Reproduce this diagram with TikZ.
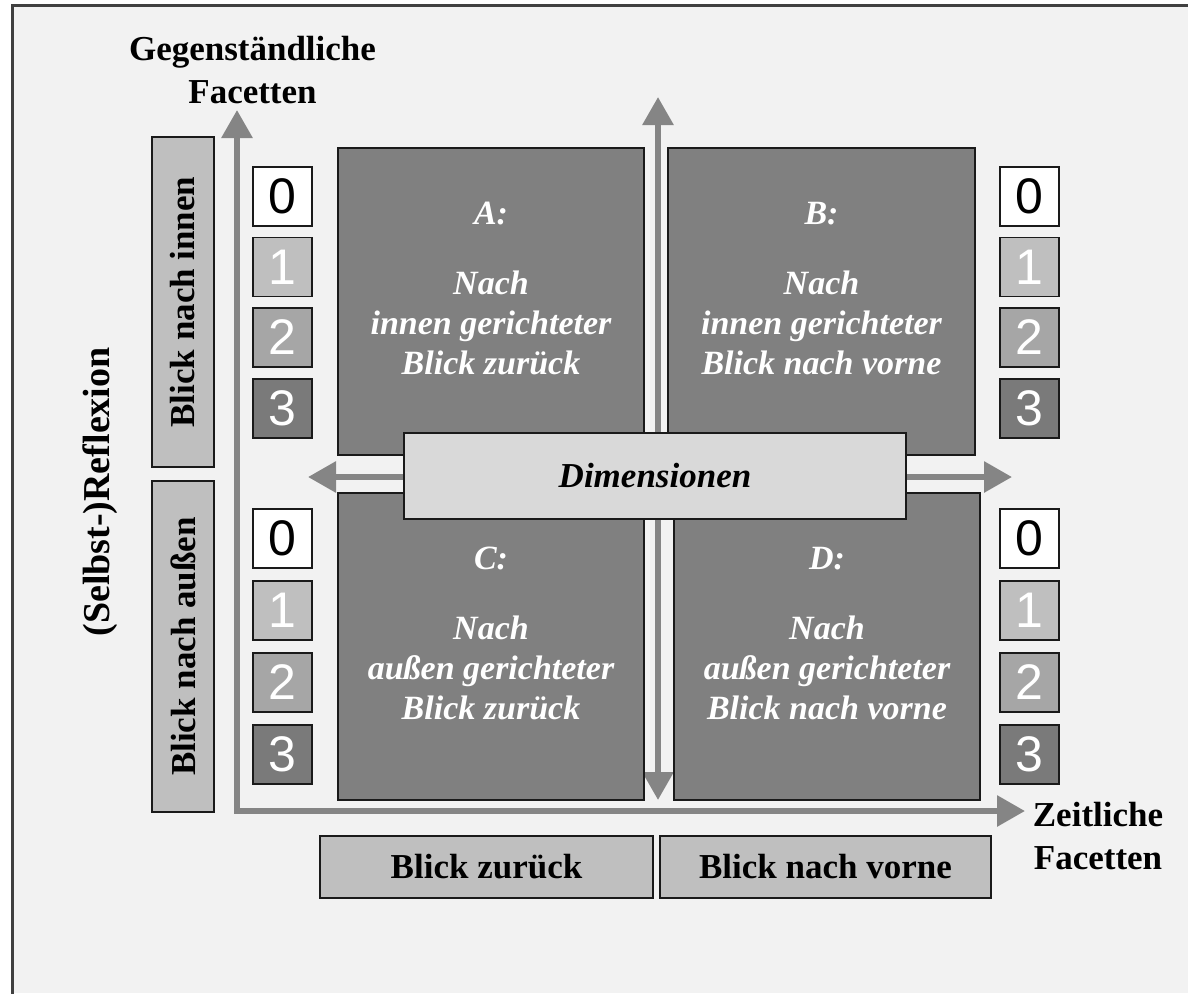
\documentclass[tikz,border=0pt]{standalone}
\usepackage{fontspec}
\setmainfont{Liberation Serif}
\newfontfamily\arialf{Liberation Sans}
\usetikzlibrary{arrows.meta,calc}
\definecolor{bg}{HTML}{F2F2F2}
\definecolor{framec}{HTML}{404040}
\definecolor{quad}{HTML}{808080}
\definecolor{lbl}{HTML}{BFBFBF}
\definecolor{dimc}{HTML}{D9D9D9}
\definecolor{arr}{HTML}{858585}
\definecolor{lvone}{HTML}{BFBFBF}
\definecolor{lvtwo}{HTML}{A6A6A6}
\definecolor{lvthree}{HTML}{7A7A7A}
\definecolor{edge}{HTML}{1A1A1A}
\begin{document}
\begin{tikzpicture}[x=1pt,y=-1pt,
 >={Triangle[length=28pt,width=30pt]},
 box/.style={draw=edge, line width=1.8pt, inner sep=0pt, outer sep=0pt},
 quadbox/.style={box, fill=quad, minimum width=306pt, minimum height=307pt},
 qtext/.style={text=white, font=\fontsize{34}{40}\selectfont\bfseries\itshape, align=center},
 lvl/.style={box, minimum width=59pt, minimum height=59pt, font=\arialf\fontsize{50}{50}\selectfont},
 lvzero/.style={lvl, fill=white, text=black},
 lvonest/.style={lvl, fill=lvone, text=white},
 lvtwost/.style={lvl, fill=lvtwo, text=white},
 lvthreest/.style={lvl, fill=lvthree, text=white},
 lblbox/.style={box, fill=lbl, font=\fontsize{35}{40}\selectfont\bfseries},
 arrowline/.style={draw=arr, line width=6pt, <->},
 titletext/.style={font=\fontsize{35}{43}\selectfont\bfseries, align=center, inner sep=0pt}
]
\useasboundingbox (0,0) rectangle (1188,993);
\fill[white] (0,0) rectangle (1188,993);
\fill[bg] (12,5) rectangle (1188,993);
\draw[framec, line width=3pt] (12,995) -- (12,5) -- (1190,5);

% coordinates for arrows
\coordinate (ytop) at (237,110);
\coordinate (corner) at (237,811);
\coordinate (xend) at (1025,811);
\coordinate (vtop) at (658,97);
\coordinate (vbot) at (658,800);
\coordinate (hleft) at (308,477);
\coordinate (hright) at (1012,477);

% axes
\draw[arrowline, line join=miter] (ytop) -- (corner) -- (xend);
\draw[arrowline] (vtop) -- (vbot);
\draw[arrowline] (hleft) -- (hright);

% quadrants
\node[quadbox] (A) at (491,301.5) {};
\node[quadbox, minimum width=307pt] (B) at (821.5,301.5) {};
\node[quadbox] (C) at (491,646.5) {};
\node[quadbox] (D) at (827,646.5) {};

\node[qtext, yshift=13pt] (At) at (A.center) {A:\\[30pt]Nach\\innen gerichteter\\Blick zurück};
\node[qtext, yshift=13pt] (Bt) at (B.center) {B:\\[30pt]Nach\\innen gerichteter\\Blick nach vorne};
\node[qtext, yshift=13pt] (Ct) at (C.center) {C:\\[30pt]Nach\\außen gerichteter\\Blick zurück};
\node[qtext, yshift=13pt] (Dt) at (D.center) {D:\\[30pt]Nach\\außen gerichteter\\Blick nach vorne};

% dimensionen
\node[box, fill=dimc, minimum width=502pt, minimum height=86pt,
      font=\fontsize{35}{40}\selectfont\bfseries\itshape] (dim) at (655,476) {Dimensionen};

% level boxes
\foreach \xx/\side in {282.5/l,1029.5/r}{
  \node[lvzero]    (\side u0) at (\xx,196.5) {0};
  \node[lvonest]   (\side u1) at (\xx,267) {1};
  \node[lvtwost]   (\side u2) at (\xx,337.5) {2};
  \node[lvthreest] (\side u3) at (\xx,408.5) {3};
  \node[lvzero]    (\side d0) at (\xx,538.5) {0};
  \node[lvonest]   (\side d1) at (\xx,610.5) {1};
  \node[lvtwost]   (\side d2) at (\xx,682.5) {2};
  \node[lvthreest] (\side d3) at (\xx,754.5) {3};
}

% side label boxes
\node[lblbox, minimum width=330pt, minimum height=62pt, rotate=90] (innen) at (183,302) {Blick nach innen};
\node[lblbox, minimum width=331pt, minimum height=62pt, rotate=90] (aussen) at (183,646.5) {Blick nach außen};

% bottom label boxes
\node[lblbox, minimum width=333pt, minimum height=62pt] (zurueck) at (486.5,867) {Blick zurück};
\node[lblbox, minimum width=331pt, minimum height=62pt] (vorne) at (825.5,867) {Blick nach vorne};

% titles
\node[titletext] (gegen) at (252.5,70) {Gegenständliche\\Facetten};
\node[titletext] (zeit) at (1098,836) {Zeitliche\\Facetten};
\node[titletext, rotate=90, font=\fontsize{38}{43}\selectfont\bfseries] (refl) at (100,492) {(Selbst-)Reflexion};
\end{tikzpicture}
\end{document}
